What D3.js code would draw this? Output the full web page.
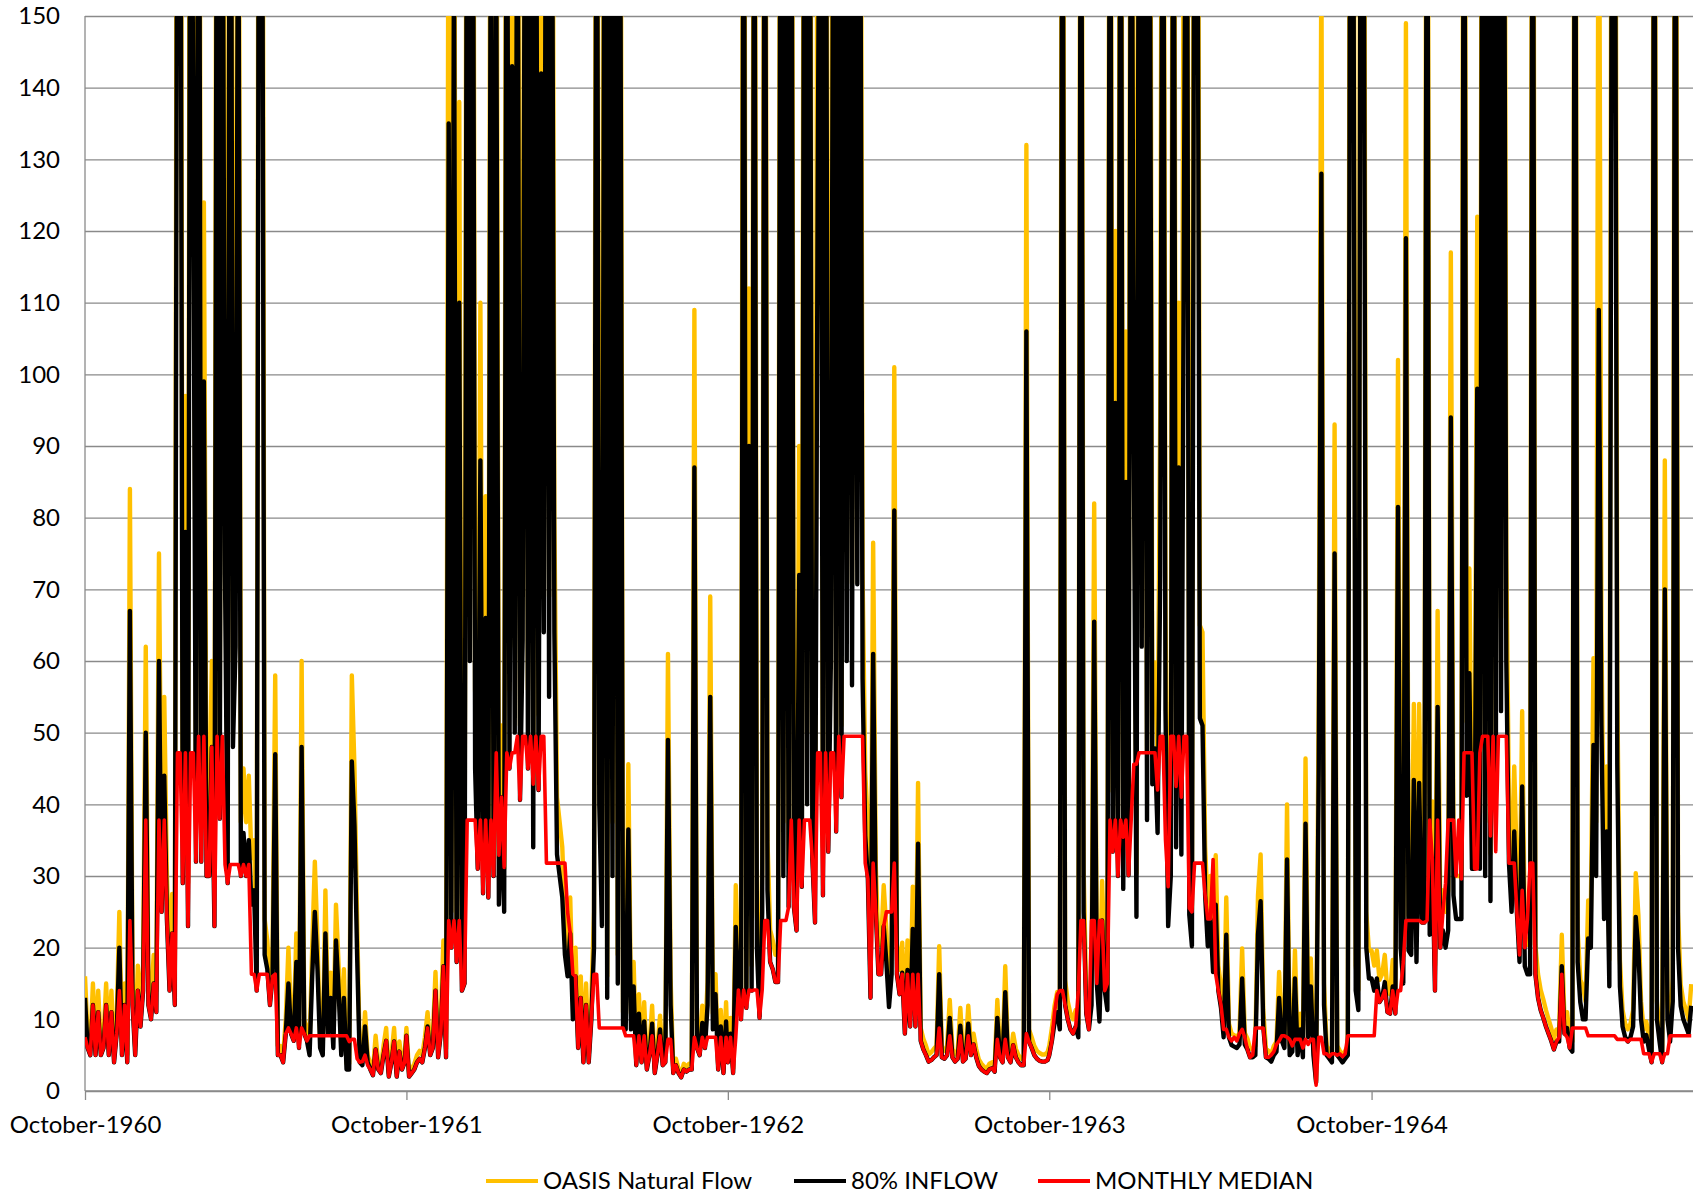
<!DOCTYPE html>
<html><head><meta charset="utf-8">
<script src="https://cdn.jsdelivr.net/npm/d3@7"></script>
<style>
body{margin:0;background:#fff}
svg text{font-family:Lato,"Open Sans",sans-serif;fill:#000}
</style>
</head><body>
<svg id="chart" width="1704" height="1198"></svg>
<script>
// ---- data (one value every 3 days per water year) ----
const seriesNames = ["OASIS Natural Flow", "80% INFLOW", "MONTHLY MEDIAN"];
const waterYearStarts = [1960, 1961, 1962, 1963, 1964];
const xTickLabels = ["October-1960", "October-1961", "October-1962", "October-1963", "October-1964"];
const yTickValues = [0,10,20,30,40,50,60,70,80,90,100,110,120,130,140,150];
const sampleStepDays = 3;

const natural1961 = [16,7.5,6.3,15,6.3,14,6.3,7.5,15,6.3, 14,5,10,25,6.3,15,5,84,15,6.3, 17.5,11,17.5,62,15,12.5,19,14,75,31,
 55,30,17.5,27.5,15,250,262,36,97,29, 275,164,40,288,40,124,37.5,37.5,60,29, 250,47.5,238,90,36,300,60,78,225,37.5,
 45,37.5,44,32.5,35,17.5,275,238,24,21, 15,20,58,6.3,6.3,5,10,20,10,8.8, 22,7.5,60,10,8.8,6.3,20,32,21,7.5,
 6.3,28,10,16.5,7.5,26,17.5,6.3,17,3.8, 3.8,58,45,24,5,4.5,11,5,3.8,2.8, 7.7,3.8,3.1,6.3,8.8,2.5,5,8.8,2.5,6.9, 3.8,5];
const inflow1961 = [13,6,5,12,5,11,5,6,12,5, 11,4,8,20,5,12,4,67,12,5, 14,9,14,50,12,10,15,11,60,25,
 44,24,14,22,12,200,210,29,78,23, 220,131,32,230,32,99,30,30,48,23, 200,38,190,72,29,240,48,62,180,30,
 36,30,35,26,28,14,220,190,19,17, 12,16,47,5,5,4,8,15,8,7, 18,6,48,8,7,5,16,25,17,6,
 5,22,8,13,6,21,14,5,13,3, 3,46,37,19,4,3.6,9,4,3,2.2, 5.8,3,2.5,5,7,2,4,6.9,2,5.5, 3,4];
const median1961 = [7.5,6,5,12,5,11,5,6,12,5, 11,4,8,14,5,12,4,23.8,12,5, 14,9,14,37.8,12,10,15,11,37.8,25,
 37.8,24,14,22,12,47.2,47.2,29,47.2,23, 47.2,47.2,32,49.5,32,49.5,30,30,48,23, 49.5,38,49.5,31.6,29,31.6,31.6,31.6,31.6,30,
 31.6,30,31.6,16.3,16.3,14,16.3,16.3,16.3,16.3, 12,16,16.3,5,5,4,8,8.8,8,7, 8.8,6,8.8,8,7,7.7,7.7,7.7,7.7,7.7,
 7.7,7.7,7.7,7.7,7.7,7.7,7.7,7.7,7.7,7.7, 6.9,7.2,7.2,4.5,4,4.1,5,3.6,3,2.2, 5.8,3,2.5,5,7,2,4,6.9,2,5.5, 3,4];

const natural1962 = [8.8,2.5,3.1,3.8,5,5.6,5,7.5,11,6.3, 7.5,16.6,5.9,10,21,5.9,190,25,200,22.5, 138,17.5,19,250,75,262,56,39,110,34.5,
 83,34,225,37.5,200,32.5,51,31,250,56, 180,62,238,51,79,250,56,225,42.5,250, 52.5,178,80,262,69,238,80,41,37.5,34,
 24,20,27,12.5,20,7.5,16,5,15,5, 12.5,25,250,50,29,238,16,212,37.5,275, 19,200,11,10.8,45.6,10.8,18,4.5,13.5,5,
 12.4,3.8,6.3,11.9,3.1,6.3,10.5,4.5,5,61, 15.7,3.1,4.5,3.1,2.4,3.8,3.4,3.8,3.8,109, 7.5,6.3,11.9,7.5,15.2,69,10.8,16.3,3.8,11.3, 3.1,12.4];
const inflow1962 = [7.7,2,2.5,3,4,4.5,4,6,9,5, 6,14,4.7,8,17.4,4.7,135,20,160,18, 110,14,15,200,60,210,45,31,88,27.6,
 66,27,180,30,160,26,41,25,200,45, 143,50,190,40.6,63,200,45,180,34,200, 42,142,64,210,55,190,64,33,30,27,
 19,16,22,10,16,6,13,4,12,4, 10,20,200,40,23,190,13,170,30,220, 15,160,9,8.6,36.5,8.6,14.6,3.6,10.8,4,
 9.7,3,5,9.4,2.5,5,8.6,3.6,4,49, 12,2.5,3.6,2.5,1.9,3,2.7,3,3,87, 6,5,9.5,6,12,55,8.6,13.5,3,9, 2.5,9.7];
const median1962 = [7.7,2,2.5,3,4,4.5,4,6,8.8,5, 6,14,4.7,8,17.4,4.7,23.8,20,23.8,18, 23.8,14,15,37.8,37.8,37.8,37.8,31,37.8,27.6,
 37.8,27,37.8,30,47.2,32.9,41,31.2,47.2,45, 47.2,47.2,49.5,40.6,49.5,49.5,45,49.5,42.8,49.5, 42,49.5,49.5,31.8,31.8,31.8,31.8,31.8,31.8,31.8,
 31.8,25,22,16.3,16,6,13,4,12,4, 10,16.3,16.3,8.8,8.8,8.8,8.8,8.8,8.8,8.8, 8.8,8.8,8.8,7.7,7.7,7.7,7.7,3.6,7.7,4,
 7.7,3,5,7.7,2.5,5,7.7,3.6,4,7.2, 7.2,2.5,3.6,2.5,1.9,3,2.7,3,3,7.5, 6,5,7.5,6,7.5,7.5,7.5,7.5,3,7.5, 2.5,7.5];

const natural1963 = [5,10.2,3.1,28.7,17.5,12.5,250,14.5,112,17.5, 238,25,12.7,31,250,35,22.5,21,19,19, 250,37.5,225,32,250,32,28,90,35.6,250,
 50,238,40,29.4,190,250,34,262,41.8,75, 238,45,250,51,250,75,262,70.8,250,88, 238,72,44.5,37,16.3,76.5,31.4,20.4,20.4,28.7,
 22.5,14.6,20.4,101,20.4,16.9,20.7,10,21,11.3, 28.5,11.3,43,8.8,7.3,6.3,5.1,5.4,5.9,6.3, 20.2,5.9,5.6,6.3,12.7,5.9,5.1,5.6,11.6,5.1,
 5.6,11.9,6.3,8,5.9,4.4,3.8,3.4,3.1,3.8, 4,3.4,12.7,5.9,5,17.4,5.9,5,8,5.9, 5,4.5,4.5,132,8.6,7.5,6.3,5.6,5.3,5.1, 5.1,5.4];
const inflow1963 = [4,8,2.5,22.9,14,10,200,11.6,90,14, 190,20,10.2,25,200,28,18,17,15.2,15.2, 200,30,180,25.7,200,25.7,22.4,72,28.5,200,
 40,190,32.3,23.5,125,200,27.3,210,33.4,60, 190,36.2,200,41,200,60,210,56.6,200,70.7, 190,57.5,35.6,29.6,13,61,25.1,16.3,16.3,23,
 18,11.7,16.3,81,16.3,13.5,16.5,8,16.9,9, 22.6,9,34.5,7,5.8,5,4.1,4.3,4.7,5, 16.3,4.7,4.5,5,10.2,4.7,4.1,4.5,9.1,4.1,
 4.5,9.4,5,6.5,4.7,3.5,3,2.7,2.5,3, 3.2,2.7,10.2,4.7,4,13.8,4.7,4,6.4,4.7, 4,3.6,3.6,106,6.9,6,5,4.5,4.2,4.1, 4.1,4.3];
const median1963 = [4,7.5,2.5,7.5,14.1,10,14.1,11.6,14.1,14, 14.1,14.1,10.2,14.1,23.8,23.8,18,17,15.2,15.2, 23.8,23.8,23.8,25.7,37.8,25.7,22.4,37.8,28.5,37.8,
 37.8,37.8,32.3,23.5,47.2,47.2,27.3,47.2,33.4,47.2, 47.2,36.2,49.5,41,49.5,49.5,49.5,49.5,49.5,49.5, 49.5,49.5,31.8,29.6,13,31.8,25.1,16.3,16.3,23,
 25,25,25,31.8,16.3,13.5,16.3,8,16.3,9, 16.3,9,16.3,7,5.8,5,4.1,4.3,4.7,5, 8.8,4.7,4.5,5,7.7,4.7,4.1,4.5,7.7,4.1,
 4.5,7.7,5,6.5,4.7,3.5,3,2.7,2.5,3, 3.2,2.7,7.2,4.7,4,7.2,4.7,4,6.4,4.7, 4,3.6,3.6,8,6.9,6,5,4.5,4.2,4.1, 4.1,4.3];

const natural1964 = [6.3,8.8,11.9,13.8,10.8,250,15.5,12.5,10.8,10, 11.3,9.4,250,31,13.5,10.8,15,82,18.8,12.1, 29.3,17.5,14.1,250,41.8,120,37.5,250,35.3,106,
 37.6,250,112,30.4,250,78,262,47.3,225,53.5, 59.8,45,95,250,66,28.8,37.5,250,42.5,110, 41,190,250,30.8,25.3,250,238,65,64,34.1,
 25.3,30,20.8,32.9,17.5,14.5,9.4,27,9.4,8, 7.8,7.5,8.1,19.9,8.1,7.3,5.9,5.9,6.3,27.3, 33,11.3,5.9,5.6,5.1,6.3,6.9,16.6,8.8,7.5,
 40,6.3,6.9,19.6,6.3,10.8,5.9,46.4,9.4,18.5, 6.3,1.5,55.8,160,15,6.3,5.6,5,93,6.3, 5.6,5,5.6,6.3,250,238,17.5,14.1,262,225, 25,19.6];
const inflow1964 = [5,7,9.5,11,8.6,200,12,10,8.6,8, 9,7.5,200,25,10.8,8.6,12,65.5,15,9.7, 23.8,14,11.3,200,33.4,96,30,200,28.2,85,
 30.1,200,90,24.3,200,62,210,37.8,180,42.8, 47.8,36,72,200,53,23,30,200,34,87, 33,125,200,24.6,20.2,200,190,52,51,27.3,
 20.2,24,16.6,26,14,11.6,7.5,21.8,7.5,6.4, 6.2,6,6.5,15.7,6.5,5.8,4.7,4.7,5,21.8, 26.5,9,4.7,4.5,4.1,5,5.5,13,7,6,
 32.3,5,5.5,15.7,5,8.6,4.7,37.3,7.5,14.6, 5,1.2,45,128,12,5,4.5,4,75,5, 4.5,4,4.5,5,200,190,14,11.3,210,180, 20,15.7];
const median1964 = [5,7,11,13.5,14,14,12,10,8.6,8, 9,14,23.8,23.8,10.8,8.6,23.8,23.8,15,23.8, 23.8,14,15,37.8,33.4,37.8,30,37.8,35.4,37.8,
 30.1,37.8,45.6,45.6,47.2,47.2,47.2,47.2,47.2,47.2, 47.2,42,49.5,49.5,35,28.5,49.5,49.5,42.5,49.5, 41,49.5,49.5,25.5,25,31.8,31.8,31.8,31.8,27.3,
 24,24,32.3,16.3,14,12,8.6,8.6,7.5,7, 7.5,7,8,8.6,7.5,5.8,4.7,5,8.8,8.8, 8.8,8.8,4.7,4.7,5,5.5,6.5,7,7.7,7.7,
 7.5,7.2,6.3,7.2,7.2,7.2,6,7.2,6.5,7.2, 7.2,0.8,7.5,7.5,5.2,5.2,4.8,5.2,5.2,5, 5.2,4.8,5.2,7.7,7.7,7.7,7.7,7.7,7.7,7.7, 7.7,7.7];

const natural1965 = [19.6,17.5,19.6,15.5,16.3,19,13.8,13.5,18.3,13.5, 102,25,18.8,149,24.5,23.8,54,22.5,54,29.4, 29.4,250,27.3,40.4,17.5,67,25,28,25,28,
 117,34.1,30,30,30,250,51.5,72.9,38.8,38.8, 122,38.8,250,37.5,212,33.1,250,50,238,66, 250,75,39.8,31.3,45.3,31.3,22.5,53,21.8,20.4,
 20.4,250,20.4,16.3,14.1,12.8,11.3,10,8.8,7.3, 8.6,8.6,21.8,10,11,7.5,6.9,250,22.5,15.5, 14.6,12.5,26.6,25,60.4,37.5,190,64,30,45.3,
 18.3,225,250,57,18.3,11.3,9.4,8.6,9.4,11.3, 30.4,24.5,12.5,8.6,9.7,7.3,5,250,12.5,8.6, 5,88,12.5,8.6,15.7,250,25,14.9,12.5,11.3, 10,14.9];
const inflow1965 = [15.7,14,15.7,12.4,13,15.2,11,10.8,14.6,10.8, 81.5,20,15,119,19.6,19,43.4,18,43,23.5, 23.5,200,21.8,32.3,14,53.6,20,22.4,20,22.4,
 94,27.3,24,24,24,200,41.2,58.3,31,31, 98,31,200,30,170,26.5,200,40,190,53, 200,60,31.8,25,36.2,25,18,42.5,17.4,16.3,
 16.3,200,16.3,13,11.3,10.2,9,8,7,5.8, 6.9,6.9,17.4,8,8.8,6,5.5,200,18,12.4, 10,10,21.3,20,48.3,30,109,51,24,36.2,
 14.6,180,200,45.6,14.6,9,7.5,6.9,7.5,9, 24.3,19.6,10,6.9,7.8,5.8,4,200,10,6.9, 4,70,10,6.9,12.5,200,20,11.9,10,9, 8,11.9];
const median1965 = [7.7,7.7,14,12.4,13,14,11,10.8,14,10.8, 14,14,18,23.8,23.8,23.8,23.8,23.8,23.8,23.5, 23.5,23.8,37.8,32.3,14,37.8,20,24.9,29,37.8,
 37.8,37.8,30,37.8,29.6,47.2,47.2,47.2,47.2,31, 31,47.2,49.5,49.5,49.5,35.6,49.5,33.4,49.5,49.5, 49.5,49.5,31.8,31.8,31.8,25,19,28,20,24,
 31.8,31.8,16.3,13,11.3,10.2,9,8,7,5.8, 6.9,7.5,16.3,8,7.5,6,8.8,8.8,8.8,8.8, 8.8,8.8,7.7,7.7,7.7,7.7,7.7,7.7,7.7,7.7,
 7.7,7.7,7.7,7.2,7.2,7.2,7.2,6.9,7.2,7.2, 7.2,7.2,7.2,5.2,5.2,5.2,4,5.2,5.2,5.2, 4,5.2,5.2,7.7,7.7,7.7,7.7,7.7,7.7,7.7, 7.7,7.7];

const naturalByYear = [natural1961, natural1962, natural1963, natural1964, natural1965];
const inflowByYear  = [inflow1961, inflow1962, inflow1963, inflow1964, inflow1965];
const medianByYear  = [median1961, median1962, median1963, median1964, median1965];

// ---- build dated series ----
function toSeries(byYear) {
  const out = [];
  byYear.forEach((arr, k) => {
    const start = new Date(waterYearStarts[k], 9, 1);
    arr.forEach((v, i) => out.push({date: d3.timeDay.offset(start, i * sampleStepDays), value: v}));
  });
  return out;
}
const naturalSeries = toSeries(naturalByYear);
const inflowSeries = toSeries(inflowByYear);
const medianSeries = toSeries(medianByYear);

// ---- layout ----
const W = 1704, H = 1198;
const m = {left: 85, right: 11, top: 16, bottom: 107};
const x = d3.scaleTime().domain([new Date(1960, 9, 1), new Date(1965, 9, 1)]).range([m.left, W - m.right]);
const y = d3.scaleLinear().domain([0, 150]).range([H - m.bottom, m.top]);
const svg = d3.select("#chart");
svg.append("rect").attr("width", W).attr("height", H).attr("fill", "#fff");

const gridColor = "#8a8a8a";
const fontSize = 24;
const fontFamily = "Lato, 'Open Sans', sans-serif";

// gridlines + y labels
const yAxis = d3.axisLeft(y).tickValues(yTickValues).tickSize(-(W - m.left - m.right)).tickPadding(25).tickFormat(d3.format("d"));
const gy = svg.append("g").attr("transform", `translate(${m.left},0)`).call(yAxis);
gy.select(".domain").remove();
gy.selectAll(".tick line").attr("stroke", gridColor).attr("stroke-width", 1.3);
gy.selectAll(".tick text").attr("font-size", fontSize).attr("font-family", fontFamily).attr("fill", "#000");

// left axis line
svg.append("line").attr("x1", m.left).attr("x2", m.left).attr("y1", m.top).attr("y2", H - m.bottom)
  .attr("stroke", gridColor).attr("stroke-width", 1.3);

// x axis
const xTickDates = waterYearStarts.map(yr => new Date(yr, 9, 1));
const xAxis = d3.axisBottom(x).tickValues(xTickDates).tickSize(9).tickPadding(16)
  .tickFormat((d, i) => xTickLabels[i]);
const gx = svg.append("g").attr("transform", `translate(0,${H - m.bottom})`).call(xAxis);
gx.select(".domain").attr("stroke", gridColor).attr("stroke-width", 1.3).attr("d", `M${m.left},0H${W - m.right}`);
gx.selectAll(".tick line").attr("stroke", gridColor).attr("stroke-width", 1.3);
gx.selectAll(".tick text").attr("font-size", fontSize).attr("font-family", fontFamily).attr("fill", "#000");

// clip
svg.append("clipPath").attr("id", "plotClip").append("rect")
  .attr("x", m.left).attr("y", m.top).attr("width", W - m.left - m.right).attr("height", H - m.bottom - m.top + 10);

const line = d3.line().x(d => x(d.date)).y(d => y(d.value)).curve(d3.curveLinear);
const colors = ["#FFC000", "#000000", "#FF0000"];
const widths = [4.4, 4.4, 3.6];
const plot = svg.append("g").attr("clip-path", "url(#plotClip)");
[naturalSeries, inflowSeries, medianSeries].forEach((s, k) => {
  plot.append("path").datum(s).attr("d", line).attr("fill", "none")
    .attr("stroke", colors[k]).attr("stroke-width", widths[k])
    .attr("stroke-linejoin", "round").attr("stroke-linecap", "butt");
});

// legend
const legendY = 1181;
const legendItems = [{x: 486}, {x: 794}, {x: 1038}];
seriesNames.forEach((name, k) => {
  const g = svg.append("g").attr("transform", `translate(${legendItems[k].x},${legendY})`);
  g.append("line").attr("x1", 0).attr("x2", 52).attr("y1", 0).attr("y2", 0)
    .attr("stroke", colors[k]).attr("stroke-width", 4);
  g.append("text").attr("x", 57).attr("y", 0).attr("dy", "0.35em")
    .attr("font-size", fontSize).attr("font-family", fontFamily).text(name);
});
</script>
</body></html>
